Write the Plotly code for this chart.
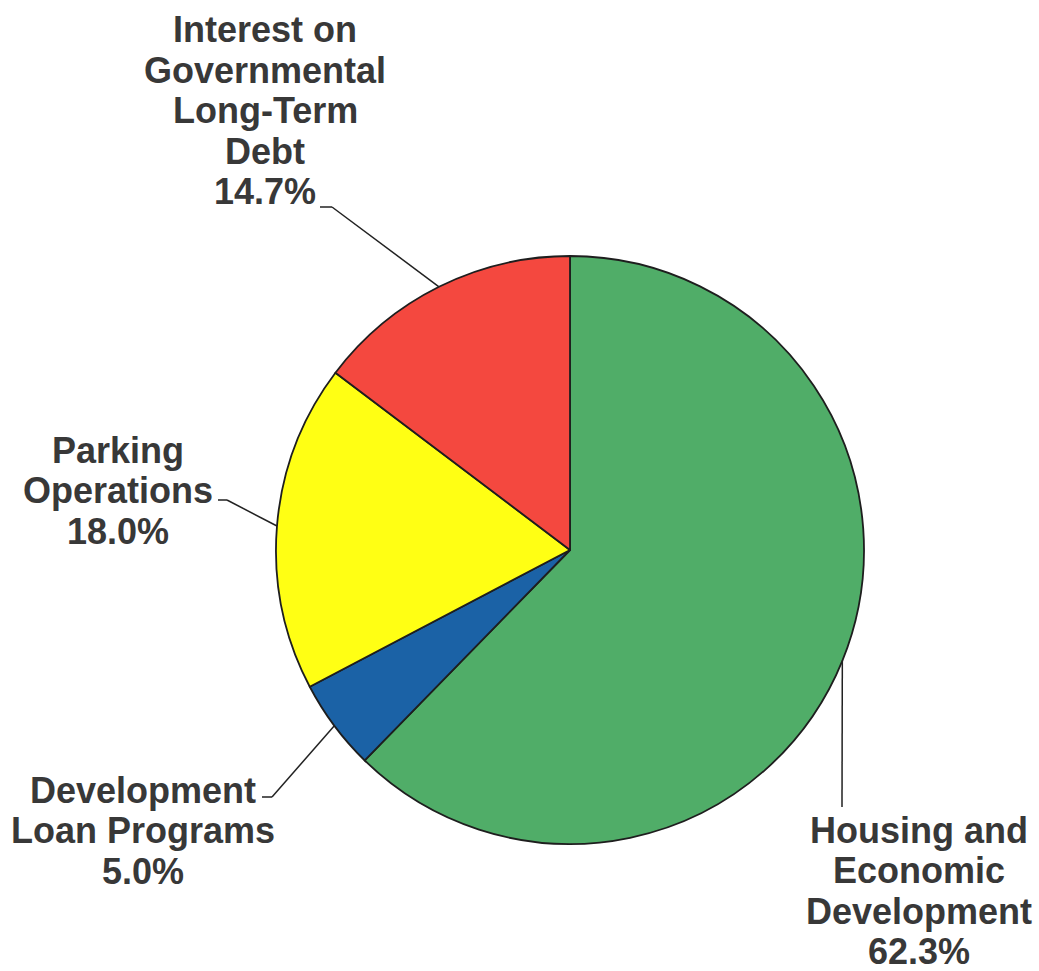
import math
import plotly.graph_objects as go

# ---- data ----
categories = ["Housing and Economic Development", "Development Loan Programs",
              "Parking Operations", "Interest on Governmental Long-Term Debt"]
values = [62.3, 5.0, 18.0, 14.7]
label_lines = [
    ["Housing and", "Economic", "Development"],
    ["Development", "Loan Programs"],
    ["Parking", "Operations"],
    ["Interest on", "Governmental", "Long-Term", "Debt"],
]
colors = ["#50AD68", "#1B62A6", "#FFFF14", "#F4483F"]

# ---- layout (pixels) ----
W, H = 1039, 971
CX, CY, R = 570, 550, 294
TEXT_COLOR = "#383838"
FONT = "Liberation Sans, Arial, sans-serif"
FS = 36
LINE_GAP = 40.5
# per slice: text center x, first line center y, elbow point, end point of leader
label_pos = [
    dict(x=919, y0=830, elbow=(842, 807), end=(842, 807)),
    dict(x=143, y0=790, elbow=(272, 797), end=(262, 797)),
    dict(x=118, y0=450, elbow=(227, 500), end=(218, 500)),
    dict(x=265, y0=30, elbow=(332, 207), end=(320, 207)),
]


def px(x):
    return x / W


def py(y):
    return 1 - y / H


fig = go.Figure(go.Pie(
    labels=categories, values=values, sort=False, direction="clockwise",
    rotation=0, textinfo="none", hoverinfo="label+percent", showlegend=False,
    marker=dict(colors=colors, line=dict(color="#1e1e1e", width=1.8)),
    domain=dict(x=[px(CX - R), px(CX + R)], y=[py(CY + R), py(CY - R)]),
))

total = sum(values)
annotations = []
shapes = []
cum = 0.0
for v, lines, pos in zip(values, label_lines, label_pos):
    mid = (cum + v / 2) / total * 2 * math.pi
    cum += v
    ax = CX + R * math.sin(mid)
    ay = CY - R * math.cos(mid)
    ex, ey = pos["elbow"]
    fx, fy = pos["end"]
    shapes.append(dict(type="line", xref="paper", yref="paper",
                       x0=px(ax), y0=py(ay), x1=px(ex), y1=py(ey),
                       line=dict(color="#222", width=1.5)))
    if (ex, ey) != (fx, fy):
        shapes.append(dict(type="line", xref="paper", yref="paper",
                           x0=px(ex), y0=py(ey), x1=px(fx), y1=py(fy),
                           line=dict(color="#222", width=1.5)))
    all_lines = lines + [f"{v:.1f}%"]
    for i, t in enumerate(all_lines):
        annotations.append(dict(
            text=f"<b>{t}</b>", x=px(pos["x"]), y=py(pos["y0"] + i * LINE_GAP),
            xref="paper", yref="paper", xanchor="center", yanchor="middle",
            showarrow=False, font=dict(family=FONT, size=FS, color=TEXT_COLOR)))

fig.update_layout(
    width=W, height=H, margin=dict(l=0, r=0, t=0, b=0),
    paper_bgcolor="white", plot_bgcolor="white",
    annotations=annotations, shapes=shapes,
)

fig.write_html("out.html", config={"displayModeBar": False},
               post_script="document.body.style.margin='0';document.body.style.padding='0';")
